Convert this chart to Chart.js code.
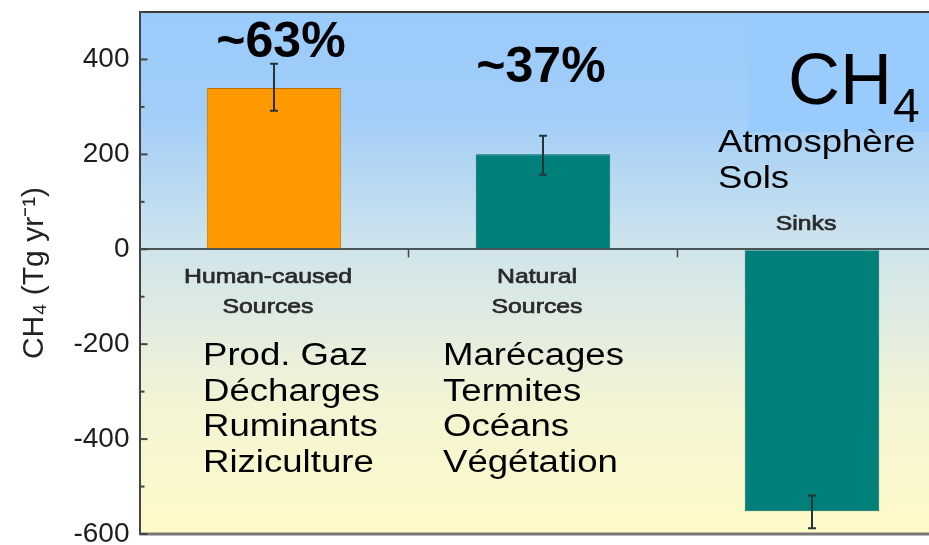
<!DOCTYPE html>
<html>
<head>
<meta charset="utf-8">
<script src="https://cdn.jsdelivr.net/npm/chart.js@4.4.0/dist/chart.umd.min.js"></script>
<style>
    html, body { margin: 0; padding: 0; width: 929px; height: 545px; overflow: hidden; background: #fff; }
    #wrap { width: 950px; height: 545px; }
</style>
</head>
<body>
<div id="wrap"><canvas id="ch4Chart" width="950" height="545"></canvas></div>
<script>
// CH4 budget (Tg/yr)
const categories = [['Human-caused', 'Sources'], ['Natural', 'Sources'], ['Sinks']];
const fluxValues = [340, 200, -552];
const errorLow = [292, 157, -588];
const errorHigh = [391, 239, -519];
const yTickLabels = [-600, -400, -200, 0, 200, 400];

// French annotations pasted over the chart
const shareLabels = ['~63%', '~37%'];
const sourceLists = [
    ['Prod. Gaz', 'Décharges', 'Ruminants', 'Riziculture'],
    ['Marécages', 'Termites', 'Océans', 'Végétation'],
    ['Atmosphère', 'Sols']
];

const FONT = '"Liberation Sans", Arial, Helvetica, sans-serif';
const barColors = ['#FF9900', '#007F7B', '#007F7B'];
const barBorders = ['#B87000', '#006460', '#006460'];

// Draws text stretched horizontally (the pasted labels are wide)
function wideText(ctx, text, x, y, sx, align, outline) {
    ctx.save();
    ctx.translate(x, y);
    ctx.scale(sx, 1);
    ctx.textAlign = align;
    ctx.fillText(text, 0, 0);
    if (outline) {
        ctx.strokeStyle = ctx.fillStyle;
        ctx.lineWidth = outline;
        ctx.strokeText(text, 0, 0);
    }
    ctx.restore();
}

const decorPlugin = {
    id: 'decor',
    beforeDraw(chart) {
        const { ctx, chartArea: a } = chart;
        const g = ctx.createLinearGradient(0, a.top, 0, a.bottom);
        g.addColorStop(0, '#9ACBFB');
        g.addColorStop(0.2, '#A2CEF8');
        g.addColorStop(0.45, '#CFE4EC');
        g.addColorStop(0.75, '#F3F4D4');
        g.addColorStop(1, '#FFFAC8');
        ctx.save();
        ctx.fillStyle = g;
        ctx.fillRect(a.left, a.top, a.right - a.left, a.bottom - a.top);
        // flat blue patch behind the CH4 heading
        ctx.fillStyle = '#99CBFC';
        ctx.fillRect(748, a.top, a.right - 748, 120);
        ctx.restore();
    },
    afterDatasetsDraw(chart) {
        const { ctx } = chart;
        const x = chart.scales.x, y = chart.scales.y;
        ctx.save();
        ctx.strokeStyle = '#243434';
        ctx.lineWidth = 2;
        fluxValues.forEach((v, i) => {
            const px = x.getPixelForValue(i);
            const lo = y.getPixelForValue(errorLow[i]);
            const hi = y.getPixelForValue(errorHigh[i]);
            ctx.beginPath();
            ctx.moveTo(px, lo); ctx.lineTo(px, hi);
            ctx.moveTo(px - 4, lo); ctx.lineTo(px + 4, lo);
            ctx.moveTo(px - 4, hi); ctx.lineTo(px + 4, hi);
            ctx.stroke();
        });
        ctx.restore();
    },
    afterDraw(chart) {
        const { ctx, chartArea: a } = chart;
        const x = chart.scales.x, y = chart.scales.y;
        const zero = y.getPixelForValue(0);
        ctx.save();

        // frame: top and bottom edges
        ctx.strokeStyle = '#3a3a3a';
        ctx.lineWidth = 2;
        ctx.beginPath();
        ctx.moveTo(a.left, a.top); ctx.lineTo(a.right, a.top);
        ctx.stroke();
        ctx.strokeStyle = '#777';
        ctx.lineWidth = 3;
        ctx.beginPath();
        ctx.moveTo(a.left, a.bottom); ctx.lineTo(a.right, a.bottom);
        ctx.stroke();

        // inward ticks on the y axis (long on labelled values)
        ctx.strokeStyle = '#444';
        ctx.lineWidth = 2;
        y.ticks.forEach(t => {
            const py = y.getPixelForValue(t.value);
            const len = yTickLabels.includes(t.value) ? 8 : 5;
            ctx.beginPath();
            ctx.moveTo(a.left, py); ctx.lineTo(a.left + len, py);
            ctx.stroke();
        });
        // small ticks between categories on the zero line
        ctx.lineWidth = 1.5;
        for (let i = 0; i < categories.length - 1; i++) {
            const px = x.getPixelForValue(i + 0.5);
            ctx.beginPath();
            ctx.moveTo(px, zero); ctx.lineTo(px, zero + 8);
            ctx.stroke();
        }

        // category labels, inside the plot next to the zero line
        ctx.fillStyle = '#2a2a2a';
        ctx.font = '21px ' + FONT;
        categories.forEach((lines, i) => {
            const px = x.getPixelForValue(i) - 6;
            const below = fluxValues[i] >= 0;
            lines.forEach((ln, k) => {
                const py = below ? zero + 34 + k * 30 : zero - 19 - (lines.length - 1 - k) * 30;
                wideText(ctx, ln, px, py, 1.18, 'center', 0.7);
            });
        });

        // share of emissions
        ctx.fillStyle = '#000';
        ctx.font = 'bold 50px ' + FONT;
        const shareAt = [405, 352];
        const shareDx = [7, -2];
        shareLabels.forEach((s, i) => {
            wideText(ctx, s, x.getPixelForValue(i) + shareDx[i], y.getPixelForValue(shareAt[i]), 1.0, 'center');
        });

        // lists of sources and sinks
        ctx.font = '31px ' + FONT;
        const listDx = [-71, -100, -94];
        const listTop = [365, 365, 152];
        sourceLists.forEach((list, i) => {
            const px = x.getPixelForValue(i) + listDx[i];
            list.forEach((ln, k) => wideText(ctx, ln, px, listTop[i] + k * 35.5, 1.18, 'left'));
        });

        // CH4 heading
        ctx.font = '72px ' + FONT;
        ctx.textAlign = 'left';
        ctx.fillText('CH', 788, 104);
        const w = ctx.measureText('CH').width;
        ctx.font = '48px ' + FONT;
        ctx.fillText('4', 788 + w + 1, 122);

        ctx.restore();
    }
};

new Chart(document.getElementById('ch4Chart'), {
    type: 'bar',
    data: {
        labels: categories,
        datasets: [{
            data: fluxValues,
            backgroundColor: barColors,
            borderColor: barBorders,
            borderWidth: 1,
            barPercentage: 1,
            categoryPercentage: 0.5
        }]
    },
    options: {
        responsive: false,
        animation: false,
        layout: { padding: { top: 12, bottom: 11, right: 3.5, left: 0 } },
        plugins: { legend: { display: false }, tooltip: { enabled: false } },
        scales: {
            x: { display: false },
            y: {
                min: -600,
                max: 500,
                afterFit(scale) {
                    scale.width = 139.5;
                    scale.paddingTop = 0;
                    scale.paddingBottom = 0;
                },
                ticks: {
                    stepSize: 100,
                    includeBounds: false,
                    padding: 10,
                    color: '#1e1e1e',
                    font: { family: FONT, size: 28 },
                    callback: v => yTickLabels.includes(v) ? v : ''
                },
                grid: {
                    drawTicks: false,
                    color: c => c.tick && c.tick.value === 0 ? '#4a5656' : 'transparent',
                    lineWidth: 2
                },
                border: { display: true, color: '#444', width: 2 },
                title: {
                    display: true,
                    text: 'CH₄ (Tg yr⁻¹)',
                    color: '#222',
                    font: { family: FONT, size: 30 },
                    padding: { top: 17, bottom: 0 }
                }
            }
        }
    },
    plugins: [decorPlugin]
});
</script>
</body>
</html>
